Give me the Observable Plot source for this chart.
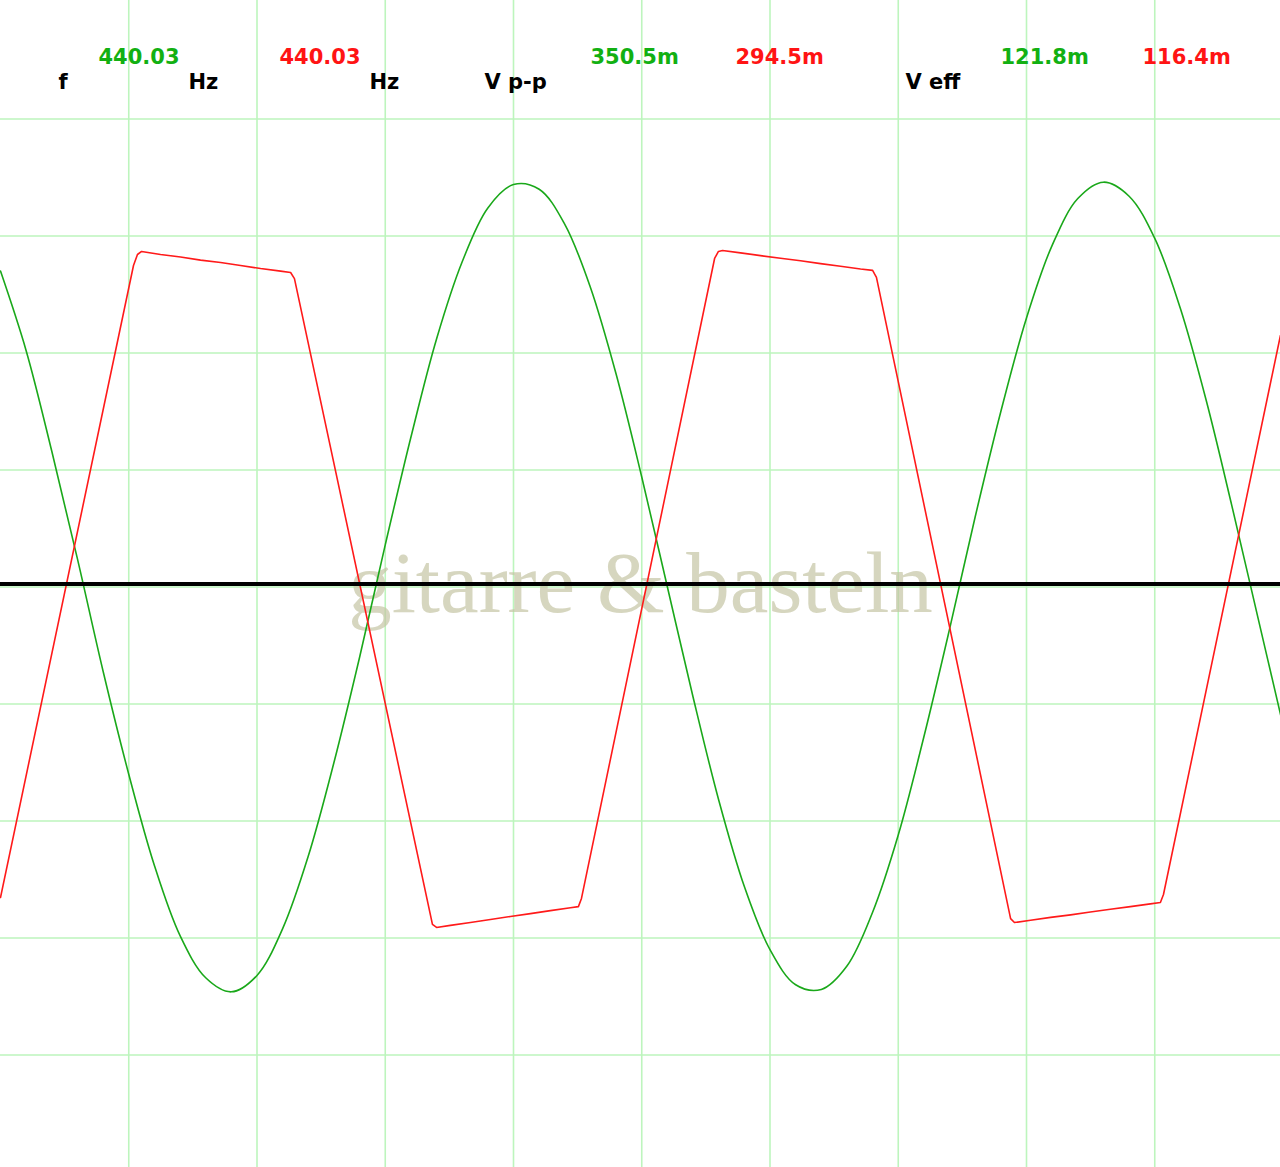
<!DOCTYPE html>
<html>
<head>
<meta charset="utf-8">
<script src="https://cdn.jsdelivr.net/npm/d3@7"></script>
<script src="https://cdn.jsdelivr.net/npm/@observablehq/plot@0.6"></script>
<style>
  html, body { margin: 0; padding: 0; background: #ffffff; }
  #chart svg { display: block; }
</style>
</head>
<body>
<div id="chart"></div>
<script>
// ---- data (time in ms, voltage in mV; 0.5 ms/div, 50 mV/div) ----
const greenT = [0.0,0.1,0.2,0.3,0.4,0.5,0.6,0.7,0.8,0.9,1.0,1.1,1.2,1.3,1.4,1.5,1.6,1.7,1.8,1.9,2.0,2.1,2.2,2.3,2.4,2.5,2.6,2.7,2.8,2.9,3.0,3.1,3.2,3.3,3.4,3.5,3.6,3.7,3.8,3.9,4.0,4.1,4.2,4.3,4.4,4.5,4.6,4.7,4.8,4.9,5.0];
const greenV = [135,101,58,12,-36,-80,-119,-149,-167,-173,-166,-146,-115,-75,-30,18,64,106,139,162,172,170,155,128,91,47,0,-47,-91,-128,-155,-170,-172,-162,-139,-106,-64,-18,30,75,115,146,166,173,167,149,119,80,35,-12,-59];

const redT = [0,0.5185,0.534,0.550,0.624,0.702,0.780,0.858,0.936,1.014,1.092,1.131,1.146,1.684,1.700,1.754,1.832,1.910,1.988,2.066,2.144,2.222,2.253,2.265,2.784,2.799,2.815,2.885,2.963,3.041,3.119,3.197,3.275,3.353,3.400,3.415,3.938,3.953,4.016,4.094,4.172,4.249,4.327,4.405,4.483,4.522,4.534,4.990];
const redV = [-132.7,137.4,142.1,143.4,142.1,141.0,139.7,138.7,137.4,136.1,135.0,134.4,131.8,-144.2,-145.5,-144.6,-143.4,-142.1,-140.8,-139.6,-138.3,-137.1,-136.6,-133.1,140.4,143.4,143.8,142.8,141.6,140.5,139.4,138.2,137.1,135.9,135.3,132.3,-141.7,-143.4,-142.4,-141.2,-140.1,-138.9,-137.7,-136.6,-135.4,-134.8,-131.4,107.5];

const gridT = [0.5,1.0,1.5,2.0,2.5,3.0,3.5,4.0,4.5];
const gridV = [-200,-150,-100,-50,0,50,100,150,200];
const triggerLevel = [1.3];

const watermark = "gitarre & basteln";

const readoutLabels = [
  {text: "f", row: "unit", color: "black"},
  {text: "440.03", row: "value", color: "green"},
  {text: "Hz", row: "unit", color: "black"},
  {text: "440.03", row: "value", color: "red"},
  {text: "Hz", row: "unit", color: "black"},
  {text: "V p-p", row: "unit", color: "black"},
  {text: "350.5m", row: "value", color: "green"},
  {text: "294.5m", row: "value", color: "red"},
  {text: "V eff", row: "unit", color: "black"},
  {text: "121.8m", row: "value", color: "green"},
  {text: "116.4m", row: "value", color: "red"}
];

// ---- layout ----
const W = 1280, H = 1167;
const labelLeft = [58, 98, 188, 279, 369, 484, 590, 735, 905, 1000, 1142];
const rowBaseline = {value: 63, unit: 88};
const colors = {green: "#12b012", red: "#ff1414", black: "#000000"};

const green = greenT.map((t, i) => ({t, v: greenV[i]}));
const red = redT.map((t, i) => ({t, v: redV[i]}));

const labelMarks = readoutLabels.map((d, i) => Plot.text([d.text], {
  frameAnchor: "top-left",
  dx: labelLeft[i],
  dy: rowBaseline[d.row],
  textAnchor: "start",
  lineAnchor: "bottom",
  fontFamily: "DejaVu Sans",
  fontWeight: "bold",
  fontSize: 21,
  fill: colors[d.color]
}));

const chart = Plot.plot({
  width: W,
  height: H,
  margin: 0,
  style: {background: "#ffffff", overflow: "hidden"},
  x: {domain: [0, W / 256.5], axis: null},
  y: {domain: [-(H - 586.5) / 2.34, 586.5 / 2.34], axis: null},
  marks: [
    Plot.ruleX(gridT, {stroke: "#bdf5bd", strokeWidth: 1.6}),
    Plot.ruleY(gridV, {stroke: "#bdf5bd", strokeWidth: 1.6}),
    Plot.text([watermark], {
      frameAnchor: "middle",
      textAnchor: "middle",
      lineAnchor: "middle",
      fontFamily: "Liberation Serif",
      fontSize: 87,
      fill: "#c4c4a4",
      fillOpacity: 0.7
    }),
    Plot.line(green, {x: "t", y: "v", stroke: "#1aa81a", strokeWidth: 1.6, curve: "catmull-rom", clip: true}),
    Plot.line(red, {x: "t", y: "v", stroke: "#ff1a1a", strokeWidth: 1.6, clip: true}),
    Plot.ruleY(triggerLevel, {stroke: "#000000", strokeWidth: 4}),
    ...labelMarks
  ]
});

document.getElementById("chart").appendChild(chart);
</script>
</body>
</html>
